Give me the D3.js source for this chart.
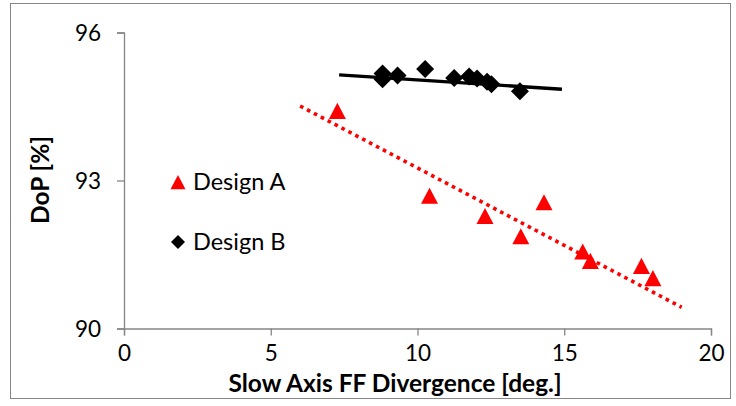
<!DOCTYPE html>
<html>
<head>
<meta charset="utf-8">
<script src="https://cdn.jsdelivr.net/npm/d3@7"></script>
<style>
  html, body { margin: 0; padding: 0; background: #fff; }
  svg { display: block; }
  text { font-family: Lato, "Open Sans", sans-serif; }
</style>
</head>
<body>
<svg id="chart" width="736" height="406"></svg>
<script>
// ---- data ----
const designA_x = [7.27, 10.41, 12.30, 14.31, 13.52, 15.63, 15.89, 17.63, 18.02];
const designA_y = [94.41, 92.69, 92.28, 92.56, 91.87, 91.56, 91.37, 91.27, 91.02];
const designB_x = [8.81, 8.81, 9.32, 10.26, 11.25, 11.76, 12.03, 12.37, 12.52, 13.49];
const designB_y = [95.17, 95.05, 95.13, 95.26, 95.08, 95.11, 95.07, 95.00, 94.95, 94.81];
// trend lines (end points as drawn)
const trendA_x = [6.0, 19.0];
const trendA_y = [94.51, 90.43];
const trendB_x = [7.33, 14.92];
const trendB_y = [95.14, 94.85];
const xTicks = [0, 5, 10, 15, 20];
const yTicks = [90, 93, 96];
const seriesNames = ["Design A", "Design B"];
const xTitle = "Slow Axis FF Divergence [deg.]";
const yTitle = "DoP [%]";

// ---- drawing ----
const svg = d3.select("#chart");
const x = d3.scaleLinear().domain([0, 20]).range([124, 711]);
const y = d3.scaleLinear().domain([90, 96]).range([328.5, 32.5]);
const axisColor = "#868686";

// outer frame
svg.append("rect").attr("x", 10.5).attr("y", 3.5).attr("width", 720).attr("height", 395)
  .attr("fill", "none").attr("stroke", axisColor).attr("stroke-width", 1);

// custom symbols
const triangleType = { draw(ctx, size) { const w = Math.sqrt(size); const h = w * 0.95;
  ctx.moveTo(0, -h / 2); ctx.lineTo(w / 2, h / 2); ctx.lineTo(-w / 2, h / 2); ctx.closePath(); } };
const diamondType = { draw(ctx, size) { const r = Math.sqrt(size) / 2;
  ctx.moveTo(0, -r); ctx.lineTo(r, 0); ctx.lineTo(0, r); ctx.lineTo(-r, 0); ctx.closePath(); } };

// axes
const xAxis = d3.axisBottom(x).tickValues(xTicks).tickSize(7).tickPadding(10).tickFormat(d3.format("d"));
const yAxis = d3.axisLeft(y).tickValues(yTicks).tickSize(7).tickPadding(16).tickFormat(d3.format("d"));
const gx = svg.append("g").attr("transform", `translate(0,${y(90)})`).call(xAxis);
const gy = svg.append("g").attr("transform", `translate(${x(0)},0)`).call(yAxis);
[gx, gy].forEach(g => {
  g.select(".domain").attr("stroke", axisColor).attr("stroke-width", 1.3);
  g.selectAll(".tick line").attr("stroke", axisColor).attr("stroke-width", 1.3);
  g.selectAll(".tick text").attr("fill", "#000").style("font-size", "22.5px").style("font-family", "Lato, sans-serif");
});
gy.selectAll(".tick text").attr("dy", "0.35em");

// trend lines
const line = d3.line().x(d => x(d[0])).y(d => y(d[1]));
svg.append("path").datum(d3.zip(trendA_x, trendA_y)).attr("d", line)
  .attr("fill", "none").attr("stroke", "#ff0000").attr("stroke-width", 3.6)
  .attr("stroke-dasharray", "3.6,4.2");
svg.append("path").datum(d3.zip(trendB_x, trendB_y)).attr("d", line)
  .attr("fill", "none").attr("stroke", "#000").attr("stroke-width", 3.4);

// markers
svg.append("g").selectAll("path").data(d3.zip(designB_x, designB_y)).join("path")
  .attr("d", d3.symbol().type(diamondType).size(18 * 18))
  .attr("transform", d => `translate(${x(d[0])},${y(d[1])})`).attr("fill", "#000");
svg.append("g").selectAll("path").data(d3.zip(designA_x, designA_y)).join("path")
  .attr("d", d3.symbol().type(triangleType).size(17 * 17))
  .attr("transform", d => `translate(${x(d[0])},${y(d[1])})`).attr("fill", "#ff0000");

// legend
const legend = svg.append("g");
legend.append("path").attr("d", d3.symbol().type(triangleType).size(15 * 15))
  .attr("transform", "translate(178,182)").attr("fill", "#ff0000");
legend.append("path").attr("d", d3.symbol().type(diamondType).size(14 * 14))
  .attr("transform", "translate(178,242)").attr("fill", "#000");
legend.append("text").attr("x", 193).attr("y", 182).attr("dy", "0.35em")
  .style("font-size", "23.5px").text(seriesNames[0]);
legend.append("text").attr("x", 193).attr("y", 242).attr("dy", "0.35em")
  .style("font-size", "23.5px").text(seriesNames[1]);

// axis titles
svg.append("text").attr("x", 395).attr("y", 392).attr("text-anchor", "middle")
  .style("font-size", "24.5px").style("font-weight", "bold").text(xTitle);
svg.append("text").attr("transform", "translate(49,180) rotate(-90)").attr("text-anchor", "middle")
  .style("font-size", "24.5px").style("font-weight", "bold").text(yTitle);
</script>
</body>
</html>
